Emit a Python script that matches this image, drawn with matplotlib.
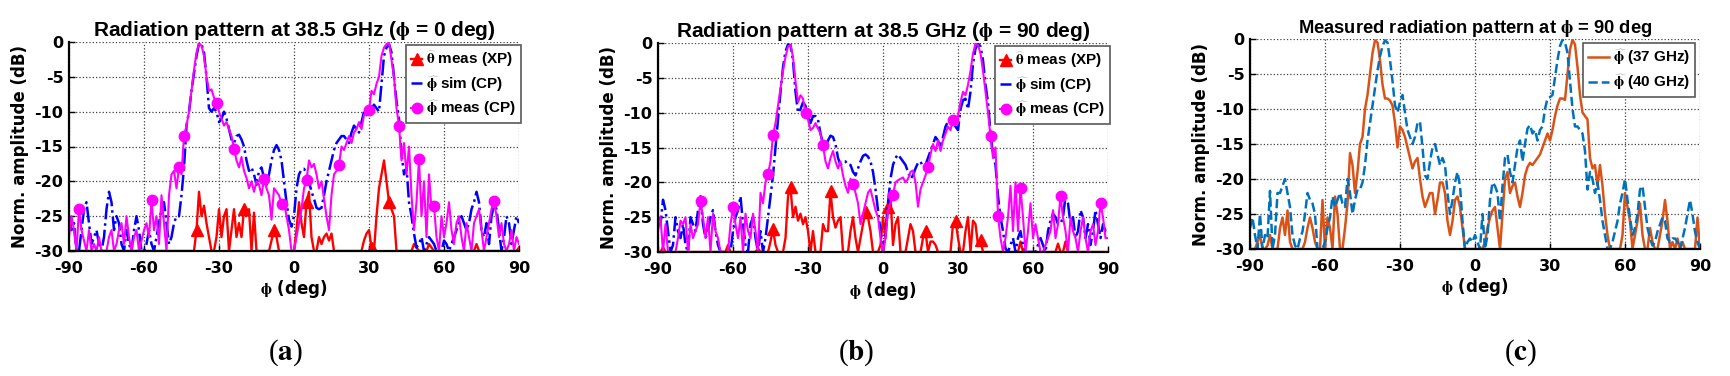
import numpy as np
import matplotlib
matplotlib.use("Agg")
import matplotlib.pyplot as plt

plt.rcParams['font.family'] = ['DejaVu Sans']
plt.rcParams['font.weight'] = 'bold'
plt.rcParams['axes.titleweight'] = 'bold'
plt.rcParams['axes.labelweight'] = 'bold'
plt.rcParams['axes.unicode_minus'] = False
plt.rcParams['mathtext.fontset'] = 'stix'

# angle grid, 1 deg steps
phi_deg = np.arange(-90, 91)

# ---- panel (a): 38.5 GHz, phi = 0 deg ----
a_sim_cp = [
    -25, -27, -26, -30, -30, -27, -24, -23, -26, -29,
    -28, -27, -29, -30, -28, -24, -21.5, -23, -27, -25,
    -26, -29, -30, -27, -29, -30, -27, -25, -27, -30,
    -30, -29, -27, -29, -30, -28, -26, -24, -23, -26,
    -29, -28, -26, -25, -25, -22, -18, -12, -10, -7,
    -4.5, -2, -0.2, -0.3, -1.5, -5, -9.5, -10, -9.5, -10,
    -11.5, -11, -10, -11, -12.5, -14, -14.5, -13.5, -13.3, -14,
    -15, -17, -18.5, -18, -19, -20.5, -18.5, -18, -19.5, -20.5,
    -19, -17, -15.5, -14.8, -15.5, -17, -20, -23, -25.5, -26.5,
    -25, -21, -19, -18.3, -18.2, -18.8, -20, -21.5, -22.5, -23.8,
    -24, -23.8, -22, -20, -18.5, -17, -15.5, -14.5, -14, -13.5,
    -13.5, -14, -14.5, -13, -12, -12.5, -13, -11.5, -10, -10.5,
    -9.5, -9.5, -9, -9.5, -10, -6, -2, -0.8, -0.3, -1.5,
    -5, -8.5, -11, -16, -19, -18, -23, -25, -27.5, -29.5,
    -29, -28, -30, -29, -28, -28.5, -29, -30, -30, -30,
    -28.5, -29, -30, -29, -28, -27, -26, -25, -26, -27,
    -26, -24, -23, -21.5, -23, -27, -28, -26, -29, -25,
    -23.5, -24, -27, -30, -28, -25, -26, -29, -27, -25,
    -26]
a_meas_cp = [
    -28, -25, -27, -30, -24, -27, -28.5, -30, -27, -30,
    -29, -30, -28, -30, -30, -30, -28, -27, -30, -29,
    -27, -26, -29, -25, -28, -30, -28, -27, -30, -28.5,
    -27, -26, -28, -22.7, -27, -25, -29, -22, -26, -30,
    -22, -19, -18.5, -21, -18, -19, -13.5, -12, -10, -7,
    -4, -1.5, -0.2, -0.5, -2, -5, -7, -6.8, -8, -8.7,
    -10, -11, -12, -11.5, -12.5, -13.5, -15.3, -17, -18, -16.5,
    -18.5, -19.5, -21, -20, -21.5, -20, -20.5, -22, -19.7, -21,
    -22, -25.5, -21, -21.5, -22, -23.3, -23, -25, -27, -30,
    -30, -28, -26, -24, -21, -19.8, -17, -18, -17.5, -19,
    -21, -20, -22.5, -25, -27, -22, -19, -18.5, -17.7, -15,
    -15.5, -14.5, -13.5, -14.5, -13, -12.5, -11.5, -12.5, -10.5, -10,
    -9.8, -7, -7.5, -6, -5, -2, -0.8, -0.3, -0.1, -2.5,
    -5, -9.5, -12, -17, -14.5, -19, -15, -22, -27, -23,
    -16.8, -25, -20, -28, -19, -24, -23.5, -28, -30, -25,
    -28, -26, -23, -27, -29, -26, -25, -28, -30, -26,
    -28, -30, -26, -25, -24, -27, -30, -28, -26, -24,
    -22.8, -25, -28, -26, -29, -30, -29, -27, -30, -28,
    -29]
a_meas_xp = [
    -30, -30, -30, -30, -30, -30, -30, -30, -30, -30,
    -30, -30, -30, -30, -30, -30, -30, -30, -30, -30,
    -30, -30, -30, -30, -30, -30, -30, -30, -30, -30,
    -30, -30, -30, -30, -30, -30, -30, -30, -30, -30,
    -30, -30, -30, -30, -30, -30, -30, -30, -30, -30,
    -30, -27, -21.5, -25, -23.5, -26, -28, -30, -30, -28,
    -24, -28, -25, -24, -30, -27, -24, -28, -26, -28,
    -24, -25, -24, -30, -24.5, -30, -30, -30, -30, -30,
    -30, -28.5, -27, -28, -30, -30, -30, -30, -30, -30,
    -30, -27, -23, -26, -28, -23, -21.5, -28, -30, -30,
    -28, -29, -28, -27.5, -28.5, -27.5, -30, -30, -30, -30,
    -30, -30, -30, -30, -30, -30, -30, -30, -28.5, -27.5,
    -27, -29.5, -30, -25, -21, -19, -17, -20, -23, -24,
    -25, -30, -30, -30, -30, -30, -30, -30, -29, -29.5,
    -30, -30, -30, -30, -29, -29.5, -30, -30, -30, -30,
    -30, -30, -30, -30, -30, -30, -30, -30, -30, -30,
    -30, -30, -30, -29, -30, -30, -30, -30, -30, -30,
    -30, -30, -30, -30, -30, -30, -30, -30, -30, -30,
    -29.5]
a_circle_at = [-86, -57, -46, -44, -31, -24, -12, -5, 5, 18, 30, 42, 50, 56, 80]
a_triangle_at = [-39, -20, -8, 5, 31, 38]

# ---- panel (b): 38.5 GHz, phi = 90 deg ----
b_sim_cp = [
    -25, -26, -22.5, -24, -27, -30, -29, -25, -27, -28,
    -26, -29, -30, -25, -26, -27, -24, -22, -26, -28,
    -27, -25, -24, -27, -29, -30, -30, -30, -30, -30,
    -27, -25, -24, -22, -26, -29, -30, -26, -25, -28,
    -30, -27, -30, -28, -25, -22, -19, -15, -11, -7,
    -3.5, -1.2, -0.2, -0.3, -2.5, -7, -10, -9.5, -8.5, -9,
    -10.5, -11.5, -10.5, -10.5, -11, -13, -14.5, -15, -14, -13.3,
    -13.5, -14.5, -16.5, -17.5, -17, -17, -17.5, -17.5, -18.5, -19,
    -18, -17, -16.2, -16, -16.3, -17, -18.5, -21, -24, -27,
    -30, -27, -23, -19.5, -17.5, -16.5, -16, -16.5, -17, -17.5,
    -18.5, -19.5, -19, -18, -17.2, -17, -17.8, -17.5, -16.5, -15.5,
    -14.5, -13.5, -14, -15, -13.5, -12, -11.3, -11, -11.5, -12,
    -12.5, -9.5, -8.2, -8, -9.5, -7, -3, -0.8, -0.1, -0.5,
    -2.5, -6, -8.5, -13, -16, -17.5, -22, -25, -27, -29.5,
    -30, -29, -28, -30, -28, -27, -29, -30, -30, -30,
    -30, -30, -29, -28, -29, -30, -27, -25.5, -24.5, -25,
    -26, -26, -25, -22, -23, -26, -25, -28, -27, -24,
    -25, -28, -26, -29, -27, -24, -26, -28, -26, -27,
    -27]
b_meas_cp = [
    -27, -25, -30, -26, -30, -30, -30, -30, -28, -25.5,
    -26, -25, -30, -26, -28, -27, -26, -22.7, -25, -28,
    -25, -30, -24.5, -27, -28, -30, -30, -30, -30, -26,
    -23.6, -26, -28, -25, -30, -24.5, -27, -28, -24.5, -27,
    -30, -21.5, -23, -20, -18.8, -17, -13.2, -11.5, -9, -6.5,
    -4, -2, -0.5, -0.3, -2, -5.5, -8.5, -7.5, -8, -10,
    -11, -12.5, -12.2, -11.5, -12.3, -13, -14.7, -17, -18, -16.5,
    -15.5, -17, -18, -17, -19, -20.5, -21.5, -19.5, -20.2, -21.5,
    -23, -26, -24.5, -23, -21.5, -21, -22.5, -24, -25, -28,
    -30, -28, -24, -23, -21.8, -20, -19.7, -19.5, -19.3, -20,
    -19.5, -18.5, -18.3, -20, -23.5, -21, -20, -19, -17.8, -16,
    -14.5, -15.5, -14, -15.5, -14, -13, -12, -12.5, -11, -11,
    -10.5, -8.5, -7, -7.5, -6, -4, -1.5, -0.1, -0.3, -1.5,
    -4, -7, -10, -13.4, -16.5, -15, -24.8, -28, -30, -28,
    -25, -20.5, -27, -20, -27, -20.8, -25, -30, -27, -23,
    -28, -26, -28, -30, -30, -29, -28, -27, -24, -28,
    -26, -22, -25, -27, -30, -25, -27, -28, -30, -27,
    -25, -28, -30, -27, -26, -29, -27, -23, -25, -28,
    -28]
b_meas_xp = [
    -30, -30, -29.3, -30, -30, -30, -30, -30, -30, -30,
    -30, -30, -30, -30, -30, -30, -30, -30, -30, -30,
    -30, -30, -30, -30, -30, -30, -30, -30, -29, -30,
    -30, -30, -30, -30, -30, -30, -30, -30, -30, -30,
    -29.5, -30, -30, -30, -30, -28.5, -26.7, -29, -30, -30,
    -30, -28, -22, -20.7, -25, -23.5, -25.5, -24.5, -26, -25,
    -27, -30, -27, -30, -30, -30, -26, -27, -27, -21.3,
    -25, -26.5, -25.5, -25, -30, -30, -30, -27, -25, -28,
    -30, -28, -26, -24.3, -25, -27, -30, -30, -30, -29,
    -25, -28, -23.5, -22, -29, -26, -25, -30, -30, -30,
    -28, -26, -27, -30, -30, -30, -28, -27, -30, -28.5,
    -28.5, -29, -30, -30, -30, -30, -30, -30, -26, -25.5,
    -28, -30, -30, -27, -25, -30, -25.5, -26, -29, -28.3,
    -30, -30, -30, -30, -30, -30, -30, -30, -30, -30,
    -30, -30, -30, -30, -30, -28.5, -30, -30, -30, -30,
    -30, -30, -30, -30, -30, -30, -30, -30, -30, -30,
    -28.8, -30, -30, -28.5, -30, -30, -30, -30, -30, -30,
    -30, -30, -30, -30, -30, -30, -30, -30, -30, -30,
    -30]
b_circle_at = [-73, -60, -46, -44, -31, -24, -12, 4, 18, 28, 43, 46, 55, 71, 87]
b_triangle_at = [-44, -37, -21, -7, 2, 17, 29, 39]

# ---- panel (c): measured, phi = 90 deg ----
c_37ghz = [
    -30, -30, -30, -29, -28, -30, -30, -29.5, -28, -30,
    -30, -30, -27, -25.5, -28, -24.5, -29, -30, -30, -30,
    -30, -30, -29, -27, -25.5, -27, -29, -30, -30, -23,
    -30, -25.5, -27, -30, -22.5, -25, -30, -30, -27, -23.5,
    -16.3, -18, -22, -19, -15, -14, -10, -8, -5, -2,
    -0.2, -0.5, -3, -6.5, -8.5, -8.5, -8.8, -9.5, -12, -15.5,
    -12.5, -13, -14, -15.5, -17, -18.5, -17.5, -17, -20, -22.5,
    -24, -23, -22, -22, -25, -23, -20.5, -20.5, -22, -26,
    -28, -26, -23, -22.5, -24, -27, -30, -30, -30, -30,
    -30, -30, -30, -30, -29, -27, -25.5, -24.5, -24, -27,
    -30, -25, -20, -19, -22, -21, -20.5, -22.5, -24, -22,
    -19.5, -18.3, -17.7, -18, -17.5, -17, -16.5, -15.5, -14.5, -13.5,
    -14.5, -13, -11, -9.5, -8.5, -8.5, -8.7, -5, -1.5, -0.1,
    -0.8, -4, -8, -10.5, -11, -11.5, -17, -18.5, -18, -21,
    -18, -21, -25, -28, -30, -30, -30, -30, -30, -28,
    -22, -24, -26, -30, -28, -26, -23.5, -28, -30, -30,
    -27, -29, -30, -30, -28, -26, -23, -26, -30, -29,
    -30, -28.5, -30, -29, -30, -30, -30, -30, -30, -25.5,
    -30]
c_40ghz = [
    -27, -25.5, -28, -30, -25, -30, -28, -28.5, -21.7, -30,
    -28, -22, -22, -21, -20, -22, -24, -28, -29.5, -30,
    -28.5, -27.5, -25, -22, -23, -23.5, -25, -30, -30, -30,
    -29, -27, -25.5, -22.5, -24, -23, -22, -23.5, -24, -20,
    -22, -25, -23, -21.5, -21.5, -20.5, -18, -14.5, -12, -9.5,
    -7, -4.5, -2.5, -1, -0.2, -0.5, -3, -6, -9.5, -10.5,
    -9, -8, -10.5, -13, -14, -15, -14, -12, -11.8, -15.5,
    -19.5, -20, -17.5, -15.5, -15, -16.5, -18, -17, -18, -22,
    -25, -23, -20.5, -19, -21, -26, -30, -29, -28.5, -29,
    -28, -29, -30, -25, -30, -28, -23, -20.5, -21, -22,
    -26, -21, -17, -16.5, -19, -20.5, -18, -15.5, -14.5, -17.5,
    -15, -12.8, -12.3, -13.5, -13, -14.5, -13, -12.5, -10, -8.5,
    -8.3, -8, -5.5, -3, -1, -0.1, -0.5, -2, -6, -10,
    -12.5, -12.5, -13, -13.5, -16, -21.5, -19, -20, -22, -20.5,
    -23, -26, -28, -30, -30, -29, -27.5, -26, -23.5, -22,
    -20, -23, -25.5, -28, -27, -25, -21.5, -21, -24, -27,
    -28.5, -29.5, -29, -27.5, -26.5, -25.5, -26, -28.5, -29, -28.5,
    -28.5, -29, -30, -28.5, -27, -25, -23, -25, -27.5, -29,
    -30]

for name, s in [('a_sim_cp', a_sim_cp), ('a_meas_cp', a_meas_cp), ('a_meas_xp', a_meas_xp),
                ('b_sim_cp', b_sim_cp), ('b_meas_cp', b_meas_cp), ('b_meas_xp', b_meas_xp),
                ('c_37ghz', c_37ghz), ('c_40ghz', c_40ghz)]:
    assert len(s) == len(phi_deg), (name, len(s))

PHI = r'$\mathrm{\phi}$'
HAT_PHI = r'$\widehat{\mathrm{\phi}}$'
HAT_THETA = r'$\widehat{\mathrm{\theta}}$'

W, H = 1730, 376
fig = plt.figure(figsize=(W / 100, H / 100), dpi=100)


def make_axes(left, right, top, bottom):
    # pixel box -> figure fraction
    return fig.add_axes([left / W, 1 - bottom / H, (right - left) / W, (bottom - top) / H])


def style_axes(ax, title, title_size=15):
    ax.set_xlim(-90, 90)
    ax.set_ylim(-30, 0)
    ax.set_xticks(np.arange(-90, 91, 30))
    ax.set_yticks(np.arange(-30, 1, 5))
    ax.grid(True, linestyle=':', color='0.25', linewidth=0.9)
    ax.set_axisbelow(True)
    for side in ['top', 'right']:
        ax.spines[side].set_visible(False)
    for side in ['left', 'bottom']:
        ax.spines[side].set_linewidth(1.6)
        ax.spines[side].set_zorder(5)
    ax.tick_params(direction='in', length=4, width=1, labelsize=11.5)
    ax.tick_params(axis='x', pad=7)
    ax.tick_params(axis='y', pad=4)
    ax.set_title(title, fontsize=title_size, pad=4, family='Liberation Sans')
    ax.set_xlabel(PHI + ' (deg)', fontsize=12, labelpad=2)
    ax.set_ylabel('Norm. amplitude (dB)', fontsize=12, labelpad=4)


def idx(positions):
    return [int(np.searchsorted(phi_deg, p)) for p in positions]


def add_legend(ax, handles, labels, anchor, hlen):
    leg = ax.legend(handles, labels, loc='upper right', bbox_to_anchor=anchor,
                    borderaxespad=0, handlelength=hlen, handletextpad=0.25,
                    labelspacing=0.3, borderpad=0.3, fancybox=False, framealpha=1,
                    edgecolor='0.35', prop={'family': 'Liberation Sans', 'weight': 'bold',
                                            'size': 11})
    leg.get_frame().set_linewidth(1.2)


def pattern_panel(ax, sim, meas, xp, circles, triangles, title):
    h1, = ax.plot(phi_deg, xp, color='#ff0000', lw=1.7, marker='^', ms=9,
                  markevery=idx(triangles))
    h2, = ax.plot(phi_deg, sim, color='#0000ff', lw=1.8, ls='-.')
    h3, = ax.plot(phi_deg, meas, color='#ff00ff', lw=1.5, marker='o', ms=7.5,
                  markevery=idx(circles))
    style_axes(ax, title)
    add_legend(ax, [h1, h2, h3],
               [HAT_THETA + ' meas (XP)', HAT_PHI + ' sim (CP)', HAT_PHI + ' meas (CP)'],
               (1.004, 0.986), 0.75)


ax_a = make_axes(69, 519, 42, 251)
pattern_panel(ax_a, a_sim_cp, a_meas_cp, a_meas_xp, a_circle_at, a_triangle_at,
              'Radiation pattern at 38.5 GHz (' + PHI + ' = 0 deg)')

ax_b = make_axes(658, 1108, 43, 252)
pattern_panel(ax_b, b_sim_cp, b_meas_cp, b_meas_xp, b_circle_at, b_triangle_at,
              'Radiation pattern at 38.5 GHz (' + PHI + ' = 90 deg)')

ax_c = make_axes(1250, 1700, 39, 249)
c1, = ax_c.plot(phi_deg, c_37ghz, color='#d95319', lw=1.8)
c2, = ax_c.plot(phi_deg, c_40ghz, color='#0072bd', lw=1.8, ls='--')
style_axes(ax_c, 'Measured radiation pattern at ' + PHI + ' = 90 deg', title_size=13.2)
add_legend(ax_c, [c1, c2], [HAT_PHI + ' (37 GHz)', HAT_PHI + ' (40 GHz)'],
           (0.989, 0.981), 1.4)

# sub-figure letters
for lab, xc in [('a', 285), ('b', 856), ('c', 1521)]:
    fig.text(xc / W, 1 - 353 / H, r'($\mathbf{' + lab + r'}$)', ha='center', va='center',
             fontsize=21, family='Liberation Serif', weight='normal')

fig.savefig('out.png', dpi=100)
